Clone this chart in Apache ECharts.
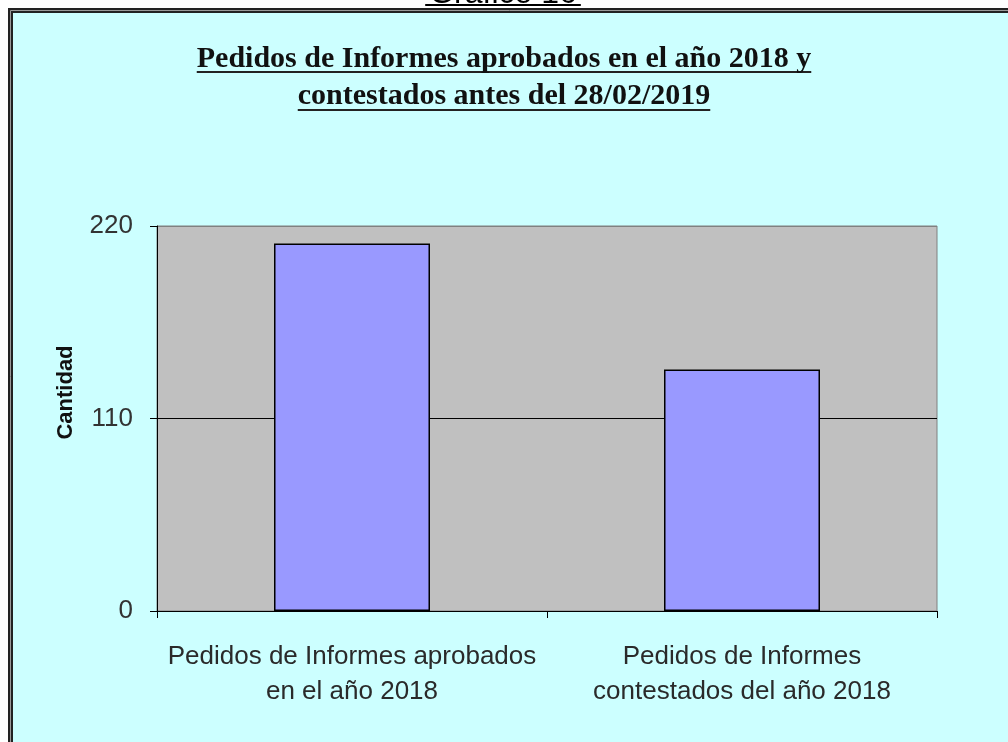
<!DOCTYPE html>
<html>
<head>
<meta charset="utf-8">
<script src="https://cdn.jsdelivr.net/npm/echarts@6/dist/echarts.min.js"></script>
<style>
  html, body { margin: 0; padding: 0; background: #fff; }
  #main { width: 1008px; height: 742px; }
</style>
</head>
<body>
<div id="main"></div>
<script>
var categories = ['Pedidos de Informes aprobados\nen el año 2018', 'Pedidos de Informes\ncontestados del año 2018'];
var values = [210, 138];
var yTicks = [0, 110, 220];
var titleLines = ['Pedidos de Informes aprobados en el año 2018 y', 'contestados antes del 28/02/2019'];
var caption = 'Gráfico 16';

grafico = function () {
    var myChart = echarts.init(document.getElementById('main'));

    // medir textos para subrayarlos
    var ctx = document.createElement('canvas').getContext('2d');
    ctx.font = 'bold 30px "Liberation Serif"';
    var w1 = ctx.measureText(titleLines[0]).width;
    var w2 = ctx.measureText(titleLines[1]).width;
    ctx.font = '32px "Liberation Sans"';
    var wc = ctx.measureText(caption).width;
    var cx = 503;

    var option = {
        backgroundColor: '#fff',
        title: {
            text: titleLines.join('\n'),
            left: 'center',
            top: 36,
            textStyle: {
                fontFamily: 'Liberation Serif',
                fontWeight: 'bold',
                fontSize: 30,
                lineHeight: 37,
                color: '#111'
            }
        },
        graphic: [
            {
                type: 'rect', z: -10, silent: true,
                shape: { x: 10.5, y: 10.5, width: 1100, height: 800 },
                style: { fill: '#CCFFFF', stroke: '#222', lineWidth: 5 }
            },
            {
                type: 'rect', z: -9, silent: true,
                shape: { x: 10.5, y: 10.5, width: 1100, height: 800 },
                style: { fill: null, stroke: '#999', lineWidth: 1 }
            },
            {
                type: 'text', silent: true, z: -20,
                x: cx, y: 10,
                style: { text: caption, font: '32px "Liberation Sans"', fill: '#000', align: 'center', verticalAlign: 'bottom' }
            },
            {
                type: 'line', silent: true,
                shape: { x1: cx - wc / 2 - 4, y1: 5, x2: cx + wc / 2 + 4, y2: 5 },
                style: { stroke: '#000', lineWidth: 2 }
            },
            {
                type: 'line', silent: true,
                shape: { x1: 504 - w1 / 2, y1: 72, x2: 504 + w1 / 2, y2: 72 },
                style: { stroke: '#222', lineWidth: 2 }
            },
            {
                type: 'line', silent: true,
                shape: { x1: 504 - w2 / 2, y1: 110, x2: 504 + w2 / 2, y2: 110 },
                style: { stroke: '#222', lineWidth: 2 }
            }
        ],
        grid: {
            left: 157,
            right: 71,
            top: 226,
            bottom: 131,
            show: true,
            backgroundColor: '#C0C0C0',
            borderColor: '#808080',
            borderWidth: 1
        },
        xAxis: {
            type: 'category',
            data: categories,
            axisLine: { lineStyle: { color: '#000', width: 1 } },
            axisTick: { show: true, interval: 0, length: 7, lineStyle: { color: '#000' } },
            axisLabel: {
                interval: 0,
                hideOverlap: false,
                margin: 28,
                fontFamily: 'Liberation Sans',
                fontSize: 26,
                lineHeight: 35,
                color: '#2a2a2a'
            }
        },
        yAxis: {
            type: 'value',
            min: yTicks[0],
            max: yTicks[yTicks.length - 1],
            interval: yTicks[1] - yTicks[0],
            name: 'Cantidad',
            nameLocation: 'middle',
            nameGap: 80,
            nameTextStyle: {
                fontFamily: 'Liberation Sans',
                fontWeight: 'bold',
                fontSize: 22,
                color: '#111',
                padding: [0, 0, 0, 52]
            },
            axisLine: { show: true, lineStyle: { color: '#000', width: 1 } },
            axisTick: { show: true, length: 7, lineStyle: { color: '#000' } },
            axisLabel: {
                margin: 24,
                fontFamily: 'Liberation Sans',
                fontSize: 26,
                color: '#333'
            },
            splitLine: {
                show: true,
                lineStyle: { color: ['#000', '#000', '#808080'], width: 1 }
            }
        },
        series: [
            {
                type: 'bar',
                data: values,
                barWidth: '40%',
                itemStyle: {
                    color: '#9999FF',
                    borderColor: '#000',
                    borderWidth: 1.5
                },
                silent: true
            }
        ],
        animation: false
    };

    myChart.setOption(option);
    return myChart;
};
grafico();
</script>
</body>
</html>
